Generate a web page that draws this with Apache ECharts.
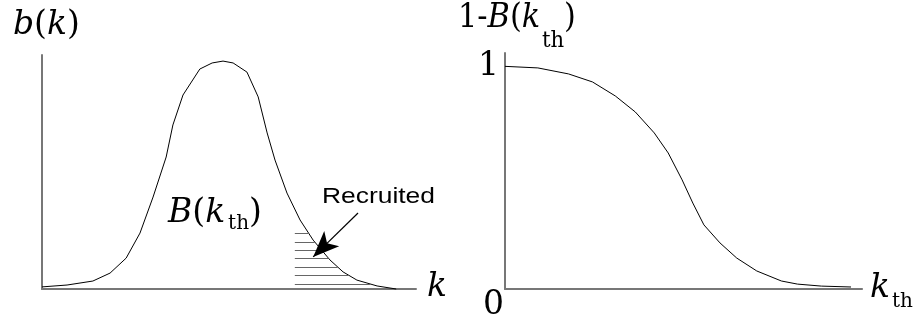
<!DOCTYPE html>
<html>
<head>
<meta charset="utf-8">
<script src="https://cdn.jsdelivr.net/npm/echarts@6/dist/echarts.min.js"></script>
<style>
  html, body { margin: 0; padding: 0; background: #fff; }
  #chart { width: 916px; height: 331px; }
</style>
</head>
<body>
<div id="chart"></div>
<script>
// left panel: distribution b(k)
const kLeft = [0, 0.67, 1.36, 1.82, 2.25, 2.62, 2.97, 3.32, 3.5, 3.77, 4.22, 4.55, 4.84, 5.11, 5.48, 5.78, 6.02, 6.23, 6.55, 6.9, 7.25, 7.7, 8.05, 8.42, 8.96, 9.47];
const bValues = [0.009, 0.017, 0.034, 0.068, 0.132, 0.239, 0.393, 0.564, 0.701, 0.829, 0.94, 0.966, 0.974, 0.966, 0.927, 0.821, 0.667, 0.551, 0.41, 0.295, 0.209, 0.124, 0.073, 0.038, 0.013, 0];
const kth = 6.76;
const kthTop = 0.29;
const hatchLevels = [0.021, 0.06, 0.094, 0.132, 0.167, 0.201, 0.239];
const arrowFrom = [8.45, 0.325];
const arrowTo = [7.25, 0.137];

// right panel: 1 - B(kth)
const kRight = [0, 0.92, 1.78, 2.45, 3.09, 3.65, 4.18, 4.57, 4.96, 5.26, 5.57, 6.02, 6.49, 7.05, 7.74, 8.19, 8.86, 9.69];
const notRecruited = [1.0, 0.993, 0.966, 0.93, 0.867, 0.795, 0.701, 0.611, 0.49, 0.386, 0.288, 0.207, 0.139, 0.081, 0.036, 0.022, 0.013, 0.009];

const serif = "DejaVu Serif, Liberation Serif, serif";
const axisGray = "#777";

// x where the falling side of b(k) crosses a level
function crossing(level) {
  let peak = bValues.indexOf(Math.max(...bValues));
  for (let i = peak; i < bValues.length - 1; i++) {
    let y0 = bValues[i], y1 = bValues[i + 1];
    if (y0 >= level && y1 <= level) {
      return kLeft[i] + ((y0 - level) / (y0 - y1)) * (kLeft[i + 1] - kLeft[i]);
    }
  }
  return kLeft[kLeft.length - 1];
}

function richStyle(sub, subPad, subLeft) {
  return {
    r: { fontFamily: serif, fontSize: 33, lineHeight: 44, verticalAlign: "top", fill: "#000", color: "#000" },
    i: { fontFamily: serif, fontSize: 33, fontStyle: "italic", lineHeight: 44, verticalAlign: "top", fill: "#000", color: "#000" },
    s: { fontFamily: serif, fontSize: sub, lineHeight: sub, verticalAlign: "top", padding: [subPad, 0, 0, subLeft], fill: "#000", color: "#000" },
  };
}

let hatchLines = hatchLevels.map(function (lv) {
  return [{ coord: [kth, lv] }, { coord: [crossing(lv), lv] }];
});

let myChart = echarts.init(document.getElementById("chart"));

let option = {
  animation: false,
  backgroundColor: "#fff",
  grid: [
    { left: 42, top: 55, width: 374, height: 234 },
    { left: 505, top: 53, width: 359, height: 236 },
  ],
  xAxis: [
    {
      gridIndex: 0, type: "value", min: 0, max: 10,
      axisLine: { lineStyle: { color: axisGray, width: 2 } },
      axisTick: { show: false }, axisLabel: { show: false }, splitLine: { show: false },
      name: "{i|k}", nameLocation: "end", nameGap: 11,
      nameTextStyle: { padding: [8, 0, 0, 0], rich: richStyle(20, 18, 2) },
    },
    {
      gridIndex: 1, type: "value", min: 0, max: 10,
      axisLine: { lineStyle: { color: axisGray, width: 2 } },
      axisTick: { show: false }, axisLabel: { show: false }, splitLine: { show: false },
      name: "{i|k}{s|th}", nameLocation: "end", nameGap: 8,
      nameTextStyle: { padding: [10, 0, 0, 0], rich: richStyle(20, 20, 2) },
    },
  ],
  yAxis: [
    {
      gridIndex: 0, type: "value", min: 0, max: 1,
      axisLine: { show: true, lineStyle: { color: axisGray, width: 2 } },
      axisTick: { show: false }, axisLabel: { show: false }, splitLine: { show: false },
    },
    {
      gridIndex: 1, type: "value", min: 0, max: 1.06, interval: 1,
      axisLine: { show: true, lineStyle: { color: axisGray, width: 2 } },
      axisTick: { show: false }, splitLine: { show: false },
      axisLabel: {
        margin: 6, fontFamily: serif, fontSize: 33, color: "#000",
        padding: [10, 0, 0, 0],
        showMinLabel: false, showMaxLabel: false,
        formatter: function (v) { return v === 1 ? "1" : ""; },
      },
    },
  ],
  graphic: [
    {
      type: "text", x: 13, y: 9,
      style: { text: "{i|b}{r|(}{i|k}{r|)}", rich: richStyle(20, 18, 2) },
    },
    {
      type: "text", x: 458, y: 2, scaleX: 0.92,
      style: { text: "{r|1-}{i|B}{r|(}{i|k}{s|th}{r|)}", rich: richStyle(23, 28, 2) },
    },
    {
      type: "text", x: 168, y: 197,
      style: { text: "{i|B}{r|(}{i|k}{s|th}{r|)}", rich: richStyle(20, 17, 3) },
    },
    {
      type: "text", x: 322, y: 186, scaleX: 1.2,
      style: { text: "Recruited", font: "22px Liberation Sans, Arial, sans-serif", fill: "#000" },
    },
    {
      type: "text", x: 483, y: 289,
      style: { text: "0", font: "33px " + serif, fill: "#000" },
    },
  ],
  series: [
    {
      type: "line", xAxisIndex: 0, yAxisIndex: 0,
      data: kLeft.map((k, i) => [k, bValues[i]]),
      showSymbol: false, clip: false, silent: true,
      lineStyle: { color: "#000", width: 1 },
      markLine: {
        silent: true, symbol: "none",
        label: { show: false },
        lineStyle: { color: "#666", width: 1, type: "solid" },
        data: [
          [
            {
              coord: [kth, -0.03],
              lineStyle: { color: axisGray, width: 2 },
              label: {
                show: true, position: "start", distance: 2,
                formatter: "{i|k}{s|th}", rich: richStyle(20, 24, 2),
              },
            },
            { coord: [kth, kthTop] },
          ],
        ].concat(hatchLines).concat([
          [
            { coord: arrowFrom, symbol: "none", lineStyle: { color: "#000", width: 1.2 } },
            { coord: arrowTo, symbol: "arrow", symbolSize: [16, 26] },
          ],
        ]),
      },
    },
    {
      type: "line", xAxisIndex: 1, yAxisIndex: 1,
      data: kRight.map((k, i) => [k, notRecruited[i]]),
      showSymbol: false, clip: false, silent: true,
      lineStyle: { color: "#000", width: 1 },
    },
  ],
};

myChart.setOption(option);
</script>
</body>
</html>
